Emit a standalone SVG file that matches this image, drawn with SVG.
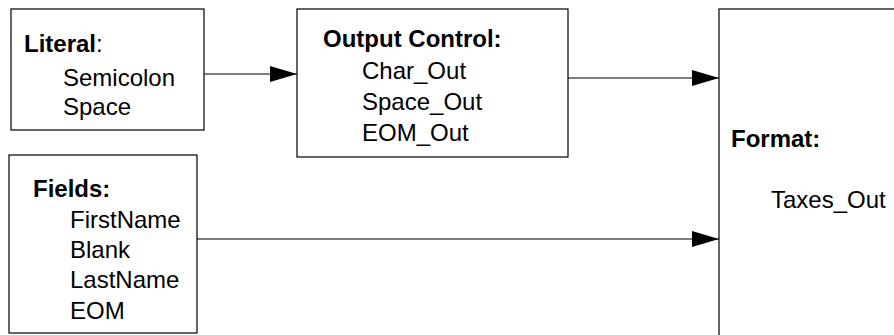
<svg xmlns="http://www.w3.org/2000/svg" width="894" height="335" viewBox="0 0 894 335">
<style>
.box{fill:#fff;stroke:#000;stroke-width:1.2}
text{font-family:"Liberation Sans",Arial,sans-serif;font-size:24px;fill:#000}
.b{font-weight:bold}
.conn{stroke:#000;stroke-width:1.2;fill:none}
</style>
<defs>
<marker id="ah" markerUnits="userSpaceOnUse" markerWidth="28" markerHeight="16" refX="27" refY="8" orient="auto">
<path d="M0,0 L27,8 L0,16 Z" fill="#000"/>
</marker>
</defs>
<rect width="894" height="335" fill="#fff"/>
<g id="literal">
<rect class="box" x="11" y="9" width="193" height="121"/>
<text x="24" y="52"><tspan class="b">Literal</tspan>:</text>
<text x="63" y="86">Semicolon</text>
<text x="63" y="115">Space</text>
</g>
<g id="output-control">
<rect class="box" x="297" y="9" width="271" height="148"/>
<text class="b" x="323" y="47">Output Control:</text>
<text x="362" y="79">Char_Out</text>
<text x="362" y="110">Space_Out</text>
<text x="362" y="141">EOM_Out</text>
</g>
<g id="fields">
<rect class="box" x="9" y="155" width="188" height="178"/>
<text class="b" x="33" y="197">Fields:</text>
<text x="70" y="228">FirstName</text>
<text x="70" y="258">Blank</text>
<text x="70" y="288">LastName</text>
<text x="70" y="319">EOM</text>
</g>
<g id="format">
<rect class="box" x="719" y="9" width="200" height="340"/>
<text class="b" x="731" y="147">Format:</text>
<text x="771" y="208">Taxes_Out</text>
</g>
<g id="connectors">
<line class="conn" x1="204" y1="74" x2="297" y2="74" marker-end="url(#ah)"/>
<line class="conn" x1="568" y1="78" x2="719" y2="78" marker-end="url(#ah)"/>
<line class="conn" x1="197" y1="239" x2="719" y2="239" marker-end="url(#ah)"/>
</g>
</svg>
